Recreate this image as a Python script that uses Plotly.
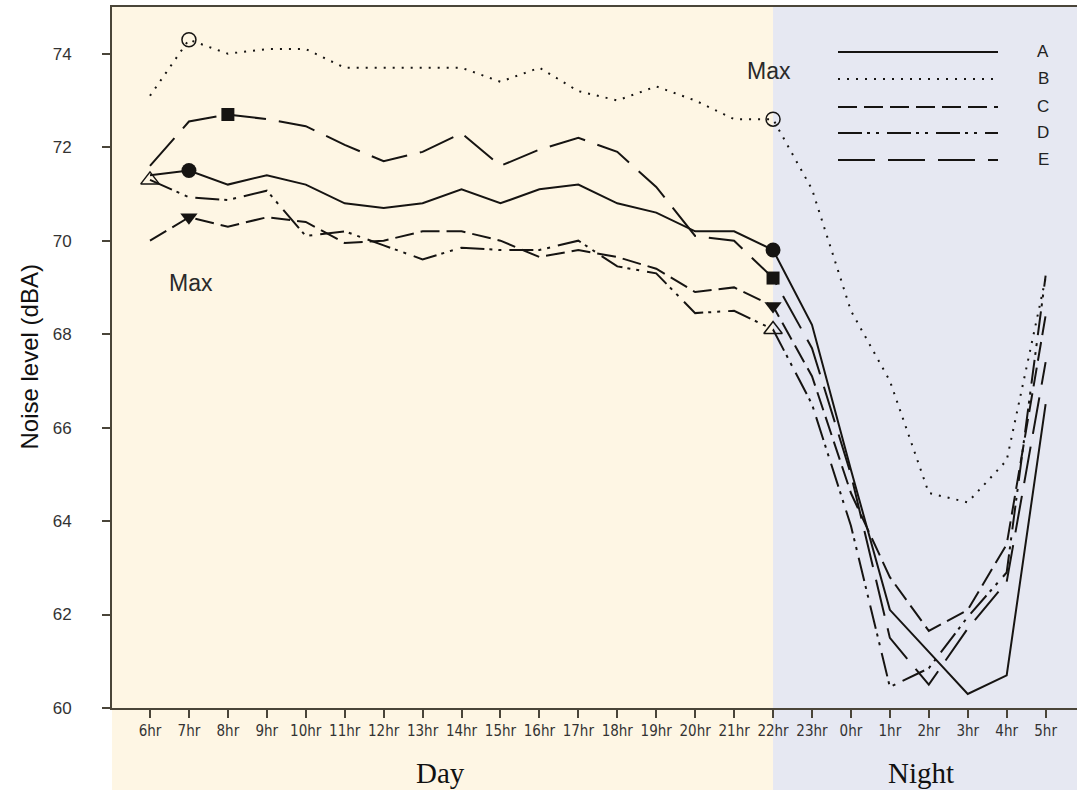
import plotly.graph_objects as go
import numpy as np

hours = ['6hr', '7hr', '8hr', '9hr', '10hr', '11hr', '12hr', '13hr', '14hr', '15hr', '16hr',
         '17hr', '18hr', '19hr', '20hr', '21hr', '22hr', '23hr', '0hr', '1hr', '2hr', '3hr',
         '4hr', '5hr']

series_a = [71.4, 71.5, 71.2, 71.4, 71.2, 70.8, 70.7, 70.8, 71.1, 70.8, 71.1, 71.2, 70.8,
            70.6, 70.2, 70.2, 69.8, 68.2, 65.1, 62.1, 61.2, 60.3, 60.7, 66.5]
series_b = [73.1, 74.3, 74.0, 74.1, 74.1, 73.7, 73.7, 73.7, 73.7, 73.4, 73.7, 73.2, 73.0,
            73.3, 73.0, 72.6, 72.6, 71.1, 68.5, 67.0, 64.6, 64.4, 65.3, 69.2]
series_c = [70.0, 70.5, 70.3, 70.5, 70.4, 69.95, 70.0, 70.2, 70.2, 70.0, 69.65, 69.8, 69.65,
            69.4, 68.9, 69.0, 68.6, 67.1, 64.6, 62.8, 61.65, 62.1, 63.5, 68.4]
series_d = [71.3, 70.93, 70.87, 71.07, 70.1, 70.2, 69.9, 69.6, 69.85, 69.8, 69.8, 70.0, 69.45,
            69.3, 68.45, 68.5, 68.1, 66.5, 63.9, 60.45, 60.85, 61.95, 62.9, 69.25]
series_e = [71.6, 72.55, 72.7, 72.6, 72.45, 72.05, 71.7, 71.9, 72.3, 71.6, 71.95, 72.2, 71.9,
            71.15, 70.1, 70.0, 69.2, 67.7, 65.0, 61.5, 60.5, 61.7, 62.7, 67.4]

series_names = ['A', 'B', 'C', 'D', 'E']
series_values = [series_a, series_b, series_c, series_d, series_e]
y_ticks = [60, 62, 64, 66, 68, 70, 72, 74]
day_end = '22hr'

# styles
INK = '#161412'
dashes = ['solid', '2px,7px', '19px,7px', '24px,5px,3px,6px,3px,8px', '37px,13px']
marker_symbols = ['circle', 'circle-open', 'triangle-down', 'triangle-up-open', 'square']
marker_sizes = [15, 14, 15, 16, 13]

W, H = 1077, 790
ML, MR, MT, MB = 112, 0, 7, 82
PW, PH = W - ML - MR, H - MT - MB
step_px = 38.94
x_idx = np.arange(len(hours))
xmin = -(150 - ML) / step_px
xmax = xmin + PW / step_px
day_end_idx = hours.index(day_end)

fig = go.Figure()

for name, vals, dash in zip(series_names, series_values, dashes):
    fig.add_trace(go.Scatter(x=x_idx, y=vals, mode='lines', name=name,
                             line=dict(color=INK, width=2, dash=dash),
                             showlegend=False, hoverinfo='skip'))

for name, vals, sym, ms in zip(series_names, series_values, marker_symbols, marker_sizes):
    day_vals = np.array(vals[:day_end_idx + 1])
    imax = int(np.argmax(day_vals))
    mk = [imax, day_end_idx]
    is_open = sym.endswith('open')
    fig.add_trace(go.Scatter(x=mk, y=[vals[i] for i in mk], mode='markers', showlegend=False,
                             marker=dict(symbol=sym, size=ms, color=INK,
                                         line=dict(color=INK, width=1.5 if is_open else 0)),
                             hoverinfo='skip'))

def px_x(px):
    return (px - ML) / PW

def px_y(py):
    return (MT + PH - py) / PH

split = (day_end_idx - xmin) / (xmax - xmin)
shapes = [
    dict(type='rect', xref='paper', yref='paper', x0=0, x1=split, y0=px_y(H), y1=1,
         fillcolor='#FEF6E4', line=dict(width=0), layer='below'),
    dict(type='rect', xref='paper', yref='paper', x0=split, x1=1, y0=px_y(H), y1=1,
         fillcolor='#E6E8F2', line=dict(width=0), layer='below'),
]

# legend drawn manually
leg_y = [52, 79, 107, 133, 160]
annotations = []
for name, dash, ly in zip(series_names, dashes, leg_y):
    shapes.append(dict(type='line', xref='paper', yref='paper', x0=px_x(838), x1=px_x(998),
                       y0=px_y(ly), y1=px_y(ly), line=dict(color=INK, width=2.2, dash=dash)))
    annotations.append(dict(xref='paper', yref='paper', x=px_x(1043), y=px_y(ly), text=name,
                            showarrow=False, xanchor='center', yanchor='middle',
                            font=dict(family='Liberation Sans, Arial, sans-serif', size=17,
                                      color='#222')))

annotations += [
    dict(x=1.05, y=69.1, xref='x', yref='y', text='Max', showarrow=False,
         font=dict(family='Liberation Sans, Arial, sans-serif', size=23, color='#2a2a2a')),
    dict(x=15.9, y=73.63, xref='x', yref='y', text='Max', showarrow=False,
         font=dict(family='Liberation Sans, Arial, sans-serif', size=23, color='#2a2a2a')),
    dict(xref='paper', yref='paper', x=px_x(440), y=px_y(773), text='Day', showarrow=False,
         xanchor='center', yanchor='middle',
         font=dict(family='Liberation Serif, Times New Roman, serif', size=29, color='#111')),
    dict(xref='paper', yref='paper', x=px_x(921), y=px_y(773), text='Night', showarrow=False,
         xanchor='center', yanchor='middle',
         font=dict(family='Liberation Serif, Times New Roman, serif', size=29, color='#111')),
    dict(xref='paper', yref='paper', x=px_x(29), y=0.5, text='Noise level (dBA)',
         showarrow=False, textangle=-90, xanchor='center', yanchor='middle',
         font=dict(family='Liberation Sans, Arial, sans-serif', size=24, color='#111')),
]

AXC = '#4a4539'
fig.update_layout(
    width=W, height=H, autosize=False,
    margin=dict(l=ML, r=MR, t=MT, b=MB, pad=0),
    paper_bgcolor='white', plot_bgcolor='rgba(0,0,0,0)',
    shapes=shapes, annotations=annotations, showlegend=False,
    xaxis=dict(range=[xmin, xmax], tickmode='array', tickvals=list(x_idx), ticktext=hours,
               showgrid=False, zeroline=False, showline=True, linecolor=AXC, linewidth=2,
               mirror=True, ticks='outside', ticklen=8, tickwidth=1.5, tickcolor=AXC,
               tickfont=dict(family='Liberation Sans Narrow, Arial Narrow, DejaVu Sans Condensed, sans-serif',
                             size=15, color='#333')),
    yaxis=dict(range=[60, 75], tickmode='array', tickvals=y_ticks,
               showgrid=False, zeroline=False, showline=True, linecolor=AXC, linewidth=2,
               ticks='outside', ticklen=8, tickwidth=1.5, tickcolor=AXC, ticklabelstandoff=27,
               tickfont=dict(family='Liberation Sans, Arial, sans-serif', size=17, color='#333')),
)

fig.write_html('out.html', config={'displayModeBar': False},
               post_script="document.body.style.margin='0';document.body.style.overflow='hidden';")
